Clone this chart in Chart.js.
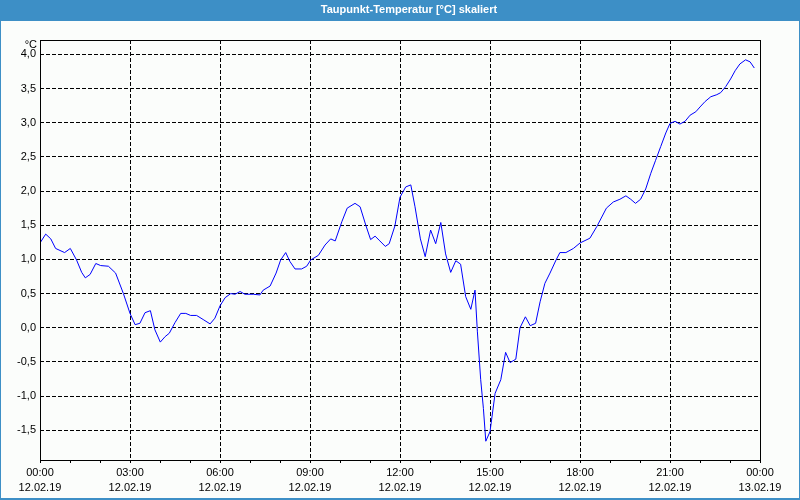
<!DOCTYPE html>
<html>
<head>
<meta charset="utf-8">
<script src="https://cdn.jsdelivr.net/npm/chart.js@4.4.1/dist/chart.umd.min.js"></script>
<style>
html,body{margin:0;padding:0;background:#fbfdfb;}
#wrap{width:800px;height:500px;position:relative;}
canvas{display:block;}
</style>
</head>
<body>
<div id="wrap"><canvas id="c" width="800" height="500"></canvas></div>
<script>
// ---- data ----
const chartTitle = 'Taupunkt-Temperatur [°C] skaliert';
const unitLabel = '°C';
const dateStart = '12.02.19';
const dateEnd = '13.02.19';

// time in hours since 12.02.19 00:00
const hours = [
  0.00,0.19,0.36,0.52,0.82,1.01,1.22,1.39,1.51,1.67,1.86,2.02,2.28,2.52,2.78,
  3.00,3.17,3.33,3.50,3.68,3.83,4.01,4.17,4.31,4.50,4.69,4.86,5.02,5.22,5.44,
  5.67,5.83,6.00,6.17,6.36,6.50,6.67,6.83,7.11,7.33,7.44,7.67,7.87,8.02,8.19,
  8.33,8.50,8.72,8.89,9.02,9.28,9.50,9.69,9.84,10.06,10.24,10.50,10.67,10.86,11.02,
  11.17,11.33,11.51,11.64,11.83,12.00,12.19,12.36,12.50,12.68,12.84,13.02,13.19,13.36,13.52,
  13.69,13.86,14.02,14.19,14.36,14.50,14.58,14.69,14.78,14.86,15.00,15.17,15.36,15.52,15.67,
  15.86,16.00,16.18,16.34,16.52,16.67,16.83,17.00,17.20,17.33,17.53,17.78,18.00,18.33,18.56,
  18.88,19.11,19.33,19.53,19.69,19.85,20.02,20.19,20.36,20.52,20.69,20.86,21.00,21.17,21.33,
  21.50,21.67,21.86,22.00,22.17,22.36,22.56,22.69,22.86,23.02,23.17,23.33,23.52,23.67,23.81
];
const dewPoint = [
  1.24,1.37,1.30,1.16,1.10,1.16,0.99,0.81,0.73,0.78,0.94,0.91,0.90,0.80,0.50,
  0.21,0.045,0.065,0.22,0.25,-0.03,-0.21,-0.13,-0.08,0.075,0.21,0.21,0.18,0.18,0.12,
  0.056,0.14,0.32,0.44,0.50,0.49,0.53,0.49,0.49,0.48,0.55,0.61,0.80,0.99,1.10,
  0.97,0.86,0.86,0.90,0.99,1.06,1.21,1.30,1.27,1.55,1.75,1.82,1.77,1.50,1.29,
  1.34,1.27,1.19,1.23,1.49,1.91,2.06,2.09,1.77,1.30,1.04,1.43,1.23,1.54,1.08,
  0.81,0.98,0.93,0.455,0.27,0.55,-0.06,-0.76,-1.18,-1.66,-1.52,-0.96,-0.76,-0.36,-0.51,
  -0.46,0.00,0.16,0.03,0.065,0.38,0.65,0.80,0.99,1.10,1.10,1.16,1.24,1.31,1.48,
  1.75,1.84,1.88,1.93,1.88,1.82,1.88,2.03,2.26,2.45,2.65,2.85,2.99,3.02,2.98,
  3.02,3.11,3.16,3.23,3.31,3.38,3.41,3.44,3.53,3.64,3.76,3.86,3.92,3.89,3.80
];

const yTickValues = [-1.5,-1.0,-0.5,0.0,0.5,1.0,1.5,2.0,2.5,3.0,3.5,4.0];
const xTickHours = [0,1,2,3,4,5,6,7,8,9,10,11,12,13,14,15,16,17,18,19,20,21,22,23,24];
const yMin = -1.935, yMax = 4.21;

// ---- styles ----
const BLUE = '#3d8fc6';
const BG = '#fbfdfb';
const FONT = 'Liberation Sans';
const TITLE_CENTER_X = 409;

const points = hours.map((h, i) => ({x: h, y: dewPoint[i]}));

const pad2 = n => (n < 10 ? '0' : '') + n;

const framePlugin = {
  id: 'frame',
  beforeDraw(chart) {
    const ctx = chart.ctx;
    ctx.save();
    ctx.fillStyle = BG;
    ctx.fillRect(0, 0, chart.width, chart.height);
    ctx.fillStyle = BLUE;
    ctx.fillRect(0, 0, chart.width, 21);
    ctx.fillRect(0, 0, 1, chart.height);
    ctx.fillRect(chart.width - 1, 0, 1, chart.height);
    ctx.fillRect(0, chart.height - 2, chart.width, 2);
    ctx.restore();
  },
  afterLayout(chart) {
    const t = chart.titleBlock;
    if (t) {
      const shift = TITLE_CENTER_X - (t.left + t.right) / 2;
      t.left += shift; t.right += shift;
    }
  },
  afterDraw(chart) {
    const ctx = chart.ctx;
    const a = chart.chartArea;
    ctx.save();
    ctx.strokeStyle = '#000';
    ctx.lineWidth = 1;
    ctx.setLineDash([]);
    ctx.strokeRect(Math.round(a.left) + 0.5, Math.round(a.top) + 0.5,
                   Math.round(a.right - a.left), Math.round(a.bottom - a.top));
    ctx.fillStyle = '#000';
    ctx.font = '11px "' + FONT + '"';
    ctx.textAlign = 'right';
    ctx.textBaseline = 'middle';
    ctx.fillText(unitLabel, a.left - 3, a.top + 5);
    ctx.restore();
  }
};

new Chart(document.getElementById('c'), {
  type: 'line',
  data: {
    datasets: [{
      label: chartTitle,
      data: points,
      borderColor: '#0000ff',
      borderWidth: 1,
      pointRadius: 0,
      tension: 0,
      fill: false
    }]
  },
  options: {
    responsive: false,
    animation: false,
    devicePixelRatio: 1,
    layout: { padding: { left: 0, right: 40, top: 0, bottom: 0 } },
    plugins: {
      legend: { display: false },
      tooltip: { enabled: false },
      title: {
        display: true,
        text: chartTitle,
        color: '#ffffff',
        font: { family: FONT, size: 11, weight: 'bold', lineHeight: 1.2 },
        padding: { top: 3.4, bottom: 23.4 }
      }
    },
    scales: {
      x: {
        type: 'linear',
        min: 0, max: 24,
        afterBuildTicks(s) { s.ticks = xTickHours.map(v => ({value: v})); },
        afterFit(s) { s.height = 40; },
        grid: {
          color: c => (c.tick && c.tick.value % 3 === 0 && c.tick.value !== 0 && c.tick.value !== 24) ? '#000' : 'rgba(0,0,0,0)',
          tickColor: '#000',
          tickLength: 3,
          lineWidth: 1
        },
        border: { display: false, dash: [4, 2] },
        ticks: {
          autoSkip: false,
          maxRotation: 0,
          padding: 2.5,
          color: '#000',
          font: { family: FONT, size: 11, lineHeight: 1.36 },
          callback: v => {
            if (v % 3 !== 0) return '';
            const h = v % 24;
            return [pad2(h) + ':00', v === 24 ? dateEnd : dateStart];
          }
        }
      },
      y: {
        type: 'linear',
        min: yMin, max: yMax,
        afterBuildTicks(s) { s.ticks = yTickValues.map(v => ({value: v})); },
        afterFit(s) { s.width = 40; },
        grid: { color: '#000', drawTicks: false, lineWidth: 1 },
        border: { display: false, dash: [4, 2] },
        ticks: {
          padding: 4,
          color: '#000',
          font: { family: FONT, size: 11 },
          callback: v => v.toFixed(1).replace('.', ',')
        }
      }
    }
  },
  plugins: [framePlugin]
});
</script>
</body>
</html>
